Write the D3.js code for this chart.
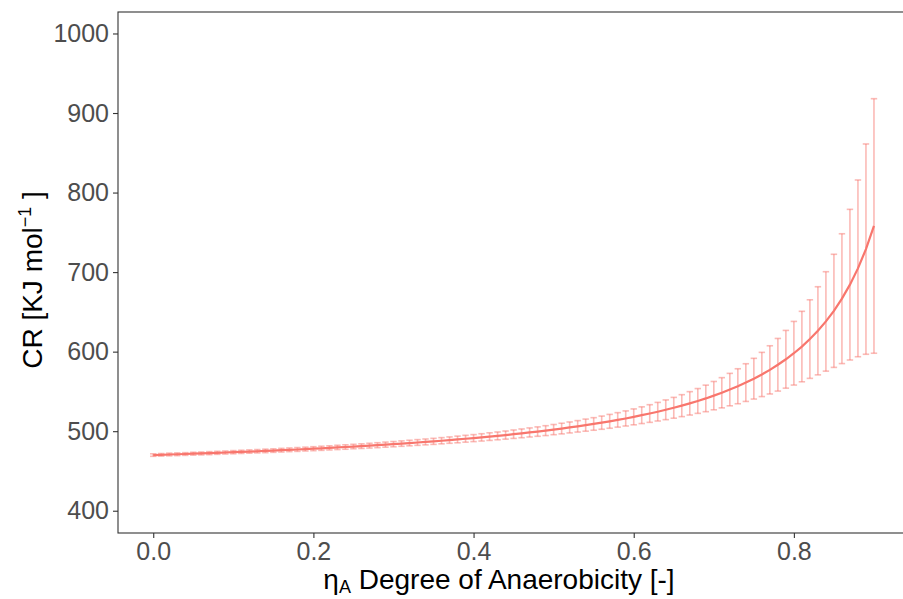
<!DOCTYPE html>
<html>
<head>
<meta charset="utf-8">
<script src="https://cdn.jsdelivr.net/npm/d3@7"></script>
<style>
  body { margin: 0; background: #fff; }
  svg text { font-family: "Liberation Sans", Arial, sans-serif; }
</style>
</head>
<body>
<div id="chart"></div>
<script>
// degree of anaerobicity, step 0.01 from 0 to 0.9
var eta = d3.range(0, 91).map(function(i){ return i / 100; });

// CR mean
var crMean = [
  470.0, 470.3, 470.7, 471.0, 471.3, 471.7, 472.0, 472.4, 472.8, 473.2,
  473.6, 474.0, 474.4, 474.8, 475.2, 475.6, 476.1, 476.6, 477.0, 477.5,
  478.0, 478.5, 479.0, 479.6, 480.1, 480.7, 481.2, 481.8, 482.4, 483.1,
  483.7, 484.4, 485.1, 485.8, 486.5, 487.2, 488.0, 488.8, 489.6, 490.5,
  491.3, 492.2, 493.2, 494.1, 495.1, 496.2, 497.3, 498.4, 499.5, 500.7,
  502.0, 503.3, 504.7, 506.1, 507.6, 509.1, 510.7, 512.4, 514.2, 516.0,
  518.0, 520.1, 522.2, 524.5, 526.9, 529.4, 532.1, 535.0, 538.0, 541.2,
  544.7, 548.3, 552.3, 556.5, 561.1, 566.0, 571.3, 577.1, 583.5, 590.4,
  598.0, 606.4, 615.8, 626.2, 638.0, 651.3, 666.6, 684.2, 704.7, 728.9,
  758.0
];

// half length of the error bars
var crErr = [
  1.6, 1.6, 1.7, 1.7, 1.7, 1.8, 1.8, 1.9, 1.9, 1.9,
  2.0, 2.0, 2.1, 2.1, 2.2, 2.2, 2.3, 2.3, 2.4, 2.4,
  2.5, 2.6, 2.6, 2.7, 2.8, 2.8, 2.9, 3.0, 3.1, 3.2,
  3.3, 3.4, 3.5, 3.6, 3.7, 3.8, 3.9, 4.0, 4.2, 4.3,
  4.4, 4.6, 4.8, 4.9, 5.1, 5.3, 5.5, 5.7, 5.9, 6.2,
  6.4, 6.7, 6.9, 7.2, 7.6, 7.9, 8.3, 8.7, 9.1, 9.5,
  10.0, 10.5, 11.1, 11.7, 12.4, 13.1, 13.8, 14.7, 15.6, 16.7,
  17.8, 19.0, 20.4, 22.0, 23.7, 25.6, 27.8, 30.3, 33.1, 36.3,
  40.0, 44.3, 49.4, 55.4, 62.5, 71.1, 81.6, 94.7, 111.1, 132.2,
  160.0
];

var xTicks = [0, 0.2, 0.4, 0.6, 0.8];
var yTicks = [400, 500, 600, 700, 800, 900, 1000];

var W = 903, H = 599;
var panel = { left: 118, top: 12, right: 910, bottom: 533 };
var col = '#F8766D';

var svg = d3.select('#chart').append('svg')
  .attr('width', W).attr('height', H);

var x = d3.scaleLinear().domain([-0.044, 0.945]).range([panel.left, panel.right]);
var y = d3.scaleLinear().domain([372, 1027]).range([panel.bottom, panel.top]);

var data = eta.map(function(e, i){ return { x: e, m: crMean[i], s: crErr[i] }; });

// error bars
var eb = svg.append('g').attr('stroke', col).attr('stroke-opacity', 0.5)
  .attr('stroke-width', 1.6).attr('fill', 'none');
var bars = eb.selectAll('g').data(data).enter().append('g');
bars.append('line')
  .attr('x1', function(d){ return x(d.x); }).attr('x2', function(d){ return x(d.x); })
  .attr('y1', function(d){ return y(d.m - d.s); }).attr('y2', function(d){ return y(d.m + d.s); });
bars.append('line')
  .attr('x1', function(d){ return x(d.x - 0.004); }).attr('x2', function(d){ return x(d.x + 0.004); })
  .attr('y1', function(d){ return y(d.m + d.s); }).attr('y2', function(d){ return y(d.m + d.s); });
bars.append('line')
  .attr('x1', function(d){ return x(d.x - 0.004); }).attr('x2', function(d){ return x(d.x + 0.004); })
  .attr('y1', function(d){ return y(d.m - d.s); }).attr('y2', function(d){ return y(d.m - d.s); });

// mean curve
var line = d3.line().x(function(d){ return x(d.x); }).y(function(d){ return y(d.m); });
svg.append('path').datum(data)
  .attr('d', line).attr('fill', 'none')
  .attr('stroke', col).attr('stroke-width', 2.2);

// panel border
svg.append('rect')
  .attr('x', panel.left).attr('y', panel.top)
  .attr('width', panel.right - panel.left).attr('height', panel.bottom - panel.top)
  .attr('fill', 'none').attr('stroke', '#333').attr('stroke-width', 1.1);

// axes
var xAxis = svg.append('g').attr('transform', 'translate(0,' + panel.bottom + ')')
  .call(d3.axisBottom(x).tickValues(xTicks).tickFormat(d3.format('.1f')).tickSize(5).tickPadding(4));
var yAxis = svg.append('g').attr('transform', 'translate(' + panel.left + ',0)')
  .call(d3.axisLeft(y).tickValues(yTicks).tickFormat(d3.format('d')).tickSize(5).tickPadding(4));

[xAxis, yAxis].forEach(function(a){
  a.select('.domain').remove();
  a.selectAll('line').attr('stroke', '#333').attr('stroke-width', 1.1);
  a.selectAll('text').attr('fill', '#4D4D4D').style('font-size', '25px')
    .style('font-family', '"Liberation Sans", Arial, sans-serif');
});

// axis titles
var yt = svg.append('text')
  .attr('transform', 'translate(42,280) rotate(-90)')
  .attr('text-anchor', 'middle').attr('fill', '#000').style('font-size', '28px');
yt.append('tspan').text('CR [KJ mol');
yt.append('tspan').attr('dy', -11).style('font-size', '18px').text('\u22121');
yt.append('tspan').attr('dy', 11).text(' ]');

var xt = svg.append('text')
  .attr('x', 499).attr('y', 589)
  .attr('text-anchor', 'middle').attr('fill', '#000').style('font-size', '28px');
xt.append('tspan').text('\u03b7');
xt.append('tspan').attr('dy', 4).style('font-size', '18px').text('A');
xt.append('tspan').attr('dy', -4).text(' Degree of Anaerobicity [-]');
</script>
</body>
</html>
